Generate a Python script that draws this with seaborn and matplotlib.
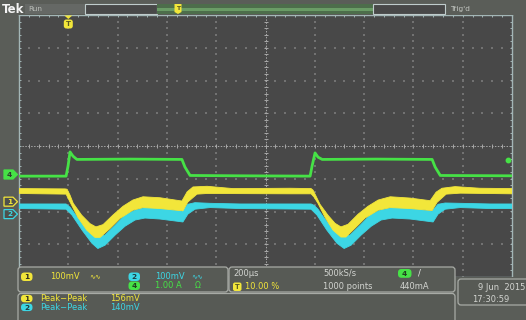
import numpy as np
import pandas as pd
import matplotlib
matplotlib.use("Agg")
import matplotlib.pyplot as plt
import matplotlib.transforms as mtransforms
from matplotlib.patches import FancyBboxPatch, Rectangle, Polygon
import seaborn as sns

# ---------------- acquisition settings ----------------
TIME_PER_DIV_US = 200
N_HDIV, N_VDIV = 10, 8
TRIGGER_POS_PCT = 10.0
SAMPLE_RATE = "500kS/s"
RECORD_LEN = "1000 points"
TRIG_LEVEL_A = 0.44
CH_SCALE_TEXT = {1: "100mV", 2: "100mV", 4: "1.00 A"}
CH_UNITS_PER_DIV = {1: 100.0, 2: 100.0, 4: 1.0}
CH_POS_DIV = {1: -1.70, 2: -2.08, 4: -0.87}
DATE_TEXT = "9 Jun  2015"
CLOCK_TEXT = "17:30:59"

# ---------------- channel 1 (mV), noise envelope ----------------
ch1_up_t = [-200, -13, -5, 7, 20, 54, 88, 112, 141, 181, 222, 262, 303, 372, 461, 482, 506, 563, 668, 900,
            985, 993, 1005, 1021, 1053, 1082, 1106, 1135, 1176, 1216, 1257, 1306, 1387, 1468, 1492, 1516,
            1569, 1670, 1800]
ch1_up_mv = [40, 39, 38, 20, -5, -41, -67, -77, -70, -41, -14, 5, 15, 12, 2, 30, 45, 47, 40, 41,
             40, 35, 17, -8, -41, -66, -77, -69, -38, -14, 5, 15, 11, 3, 29, 41,
             46, 41, 40]
ch1_lo_t = [-200, -9, 7, 39, 75, 108, 129, 169, 210, 262, 303, 372, 465, 485, 522, 563, 900,
            985, 997, 1013, 1041, 1074, 1106, 1126, 1163, 1204, 1257, 1306, 1387, 1476, 1496, 1533, 1590, 1800]
ch1_lo_mv = [25, 23, -1, -48, -87, -109, -109, -82, -51, -26, -18, -21, -28, -1, 23, 25, 24,
             24, 14, -5, -47, -87, -108, -108, -81, -50, -26, -18, -21, -27, -2, 23, 26, 24]

# ---------------- channel 2 (mV), noise envelope ----------------
ch2_up_t = [-200, -9, 7, 39, 76, 112, 149, 190, 230, 271, 311, 372, 461, 485, 514, 575, 697,
            985, 997, 1013, 1041, 1078, 1111, 1143, 1184, 1224, 1265, 1314, 1387, 1476, 1500, 1529, 1590, 1712, 1800]
ch2_up_mv = [31, 31, 21, -12, -49, -70, -64, -34, -3, 12, 20, 18, 9, 30, 35, 33, 31,
             31, 27, 15, -15, -49, -70, -64, -34, -3, 12, 20, 18, 9, 30, 34, 33, 31, 31]
ch2_lo_t = [-200, -9, 15, 56, 96, 120, 149, 190, 230, 271, 311, 372, 465, 485, 514, 575, 697,
            985, 1009, 1049, 1090, 1119, 1147, 1188, 1229, 1269, 1314, 1387, 1480, 1500, 1529, 1590, 1712, 1800]
ch2_lo_mv = [17, 15, -3, -49, -89, -105, -95, -64, -37, -18, -12, -15, -24, 0, 15, 20, 17,
             15, -3, -49, -89, -105, -95, -64, -37, -18, -12, -15, -24, 0, 15, 20, 17, 17]

# ---------------- channel 4 (A) ----------------
ch4_t = [-200, -9, -1, 7, 19, 35, 250, 461, 473, 494, 700, 981,
         989, 1001, 1013, 1030, 1250, 1476, 1488, 1509, 1800]
ch4_a = [-0.05, -0.05, 0.26, 0.69, 0.56, 0.46, 0.47, 0.46, 0.23, -0.03, -0.04, -0.05,
         0.26, 0.66, 0.53, 0.46, 0.47, 0.46, 0.23, -0.03, -0.04]

# ---------------- colours ----------------
FRAME = "#5a5d58"
GRAT = "#484848"
BORDER = "#a3b6b6"
DOT = "#727272"
CENTER = "#a8a8a8"
YEL = "#f2e63a"
CYA = "#3cd6e4"
GRN = "#46e246"
TXT = "#d2d4d0"
BOXEDGE = "#a8aba6"
BOXFILL = "#575a55"

W, H = 526, 320
sns.set_theme(style="dark", rc={"axes.facecolor": GRAT, "figure.facecolor": FRAME})
plt.rcParams["font.family"] = ["DejaVu Sans"]

fig = plt.figure(figsize=(W / 100, H / 100), dpi=100)
fig.patch.set_facecolor(FRAME)
PX = mtransforms.Affine2D().scale(1 / W, -1 / H).translate(0, 1) + fig.transFigure

ax = fig.add_axes([19 / W, 1 - 277 / H, 493 / W, 262 / H])
ax.set_facecolor(GRAT)
t_start = -TIME_PER_DIV_US * N_HDIV * TRIGGER_POS_PCT / 100
t_end = t_start + TIME_PER_DIV_US * N_HDIV
t_mid = (t_start + t_end) / 2
ax.set_xlim(t_start, t_end)
ax.set_ylim(-N_VDIV / 2, N_VDIV / 2)
ax.set_xticks([])
ax.set_yticks([])
ax.grid(False)
for sp in ax.spines.values():
    sp.set_color(BORDER)
    sp.set_linewidth(1.0)

# graticule: dotted division lines, centre cross with ticks
xs_minor = np.arange(t_start, t_end + 1, TIME_PER_DIV_US / 5)
ys_minor = np.arange(-N_VDIV / 2, N_VDIV / 2 + 0.01, 0.2)
for k in range(1, N_HDIV):
    xv = t_start + k * TIME_PER_DIV_US
    if xv == t_mid:
        continue
    ax.scatter(np.full(ys_minor.size, xv), ys_minor, s=0.9, c=DOT, marker="s", linewidths=0, zorder=1)
for k in range(-N_VDIV // 2 + 1, N_VDIV // 2):
    if k == 0:
        continue
    ax.scatter(xs_minor, np.full(xs_minor.size, k), s=0.9, c=DOT, marker="s", linewidths=0, zorder=1)
ax.axhline(0, color=CENTER, lw=0.7, ls=(0, (1.5, 1.5)), zorder=1)
ax.axvline(t_mid, color=CENTER, lw=0.7, ls=(0, (1.5, 1.5)), zorder=1)
ax.scatter(xs_minor, np.zeros(xs_minor.size), marker="|", s=10, c=CENTER, linewidths=0.7, zorder=1)
ax.scatter(np.full(ys_minor.size, t_mid), ys_minor, marker="_", s=10, c=CENTER, linewidths=0.7, zorder=1)
ax.scatter(xs_minor, np.full(xs_minor.size, N_VDIV / 2), marker="|", s=12, c=BORDER, linewidths=0.7, zorder=1)
ax.scatter(np.full(ys_minor.size, t_end), ys_minor, marker="_", s=12, c=BORDER, linewidths=0.7, zorder=1)
ax.scatter(np.full(ys_minor.size, t_start), ys_minor, marker="_", s=12, c=BORDER, linewidths=0.7, zorder=1)


def to_div(values, ch):
    return np.asarray(values, float) / CH_UNITS_PER_DIV[ch] + CH_POS_DIV[ch]


def draw_band(t_up, v_up, t_lo, v_lo, ch, color, z):
    xs = np.concatenate([np.asarray(t_up, float), np.asarray(t_lo, float)[::-1]])
    ys = np.concatenate([to_div(v_up, ch), to_div(v_lo, ch)[::-1]])
    ax.fill(xs, ys, facecolor=color, edgecolor=color, lw=0.6, zorder=z)


draw_band(ch2_up_t, ch2_up_mv, ch2_lo_t, ch2_lo_mv, 2, CYA, 3)
draw_band(ch1_up_t, ch1_up_mv, ch1_lo_t, ch1_lo_mv, 1, YEL, 4)

df4 = pd.DataFrame({"t": ch4_t, "div": to_div(ch4_a, 4)})
sns.lineplot(data=df4, x="t", y="div", color=GRN, lw=2.0, estimator=None, sort=False, ax=ax, zorder=5)
ax.set_xlabel("")
ax.set_ylabel("")

# trigger level indicator on the right edge
trig_div = TRIG_LEVEL_A / CH_UNITS_PER_DIV[4] + CH_POS_DIV[4]
ax.plot([t_end - 0.008 * (t_end - t_start)], [trig_div], "o", ms=3.2, color=GRN, zorder=6, clip_on=False)


def ypx(div):
    return H - ax.transData.transform((0, div))[1]


def xpx(t):
    return ax.transData.transform((t, 0))[0]


def box(x0, y0, x1, y1, fc, ec="none", lw=0.0, r=0.0, z=2):
    if r > 0:
        p = FancyBboxPatch((x0, y0), x1 - x0, y1 - y0, boxstyle=f"round,pad=0,rounding_size={r}",
                           fc=fc, ec=ec, lw=lw, transform=PX, zorder=z)
    else:
        p = Rectangle((x0, y0), x1 - x0, y1 - y0, fc=fc, ec=ec, lw=lw, transform=PX, zorder=z)
    fig.patches.append(p)
    return p


def label(x, y, s, color=TXT, size=6.0, ha="left", weight="normal", z=6):
    fig.text(x, y, s, color=color, fontsize=size, ha=ha, va="center", fontweight=weight,
             transform=PX, zorder=z)


def badge(x0, y0, x1, y1, s, color, txtcol="#303020"):
    box(x0, y0, x1, y1, color, r=3.5, z=4)
    label((x0 + x1) / 2, (y0 + y1) / 2 + 0.3, s, color=txtcol, size=5.3, ha="center", weight="bold")


# ---------------- top status bar ----------------
box(0, 0, W, 15, FRAME, z=2)
label(2, 9.5, "Tek", color="#f4f4f4", size=8.5, weight="bold")
box(25, 4, 85, 14, "#656865", z=3)
label(28, 9.2, "Run", color="#b9bdb8", size=5.3)
box(85, 4, 157, 14, GRAT, ec="#c0cccc", lw=0.8, z=3)
box(157, 4, 373, 14, "#4d6d4b", z=3)
box(157, 8, 373, 11, "#6a9c66", z=3)
box(373, 4, 445, 14, GRAT, ec="#c0cccc", lw=0.8, z=3)
label(450, 9.2, "Trig'd", color="#c4c8c3", size=5.3)
xt = 178
fig.patches.append(Polygon([(xt - 3.5, 4), (xt + 3.5, 4), (xt + 3.5, 12), (xt, 14), (xt - 3.5, 12)],
                           closed=True, fc=YEL, ec="none", transform=PX, zorder=4))
label(xt, 8.5, "T", color="#5a5a20", size=4.5, ha="center", weight="bold")

# trigger position marker at top of the graticule
xtp = xpx(0)
fig.patches.append(Polygon([(xtp - 4, 15.5), (xtp + 4, 15.5), (xtp, 19)], closed=True, fc=YEL,
                           ec="none", transform=PX, zorder=4))
box(xtp - 4.5, 19.5, xtp + 4.5, 28.5, YEL, r=2.5, z=4)
label(xtp, 24.3, "T", color="#5a5a20", size=5.0, ha="center", weight="bold")

# ---------------- channel ground markers ----------------
for ch, col, filled in [(4, GRN, True), (1, YEL, False), (2, CYA, False)]:
    yc = ypx(CH_POS_DIV[ch])
    pts = [(4, yc - 4.5), (13, yc - 4.5), (17.5, yc), (13, yc + 4.5), (4, yc + 4.5)]
    fig.patches.append(Polygon(pts, closed=True, fc=col if filled else "#4e504c", ec=col, lw=0.9,
                               transform=PX, zorder=4))
    label(9.5, yc + 0.3, str(ch), color="#2f3a2f" if filled else col, size=5.3, ha="center", weight="bold")

# ---------------- bottom readout panels ----------------
box(0, 277, W, H, FRAME, z=2)
box(18, 267, 228, 292, BOXFILL, ec=BOXEDGE, lw=0.9, r=3, z=3)
box(229, 267, 455, 292, BOXFILL, ec=BOXEDGE, lw=0.9, r=3, z=3)
box(18, 293.5, 455, 324, BOXFILL, ec=BOXEDGE, lw=0.9, r=3, z=3)
box(458, 279, 532, 305, BOXFILL, ec=BOXEDGE, lw=0.9, r=3, z=3)

badge(21, 272.5, 32.5, 281, "1", YEL)
label(50, 276.5, CH_SCALE_TEXT[1], color=YEL)
label(89, 276.5, "\u223f\u223f", color=YEL, size=5.0)
badge(128.5, 272.5, 140, 281, "2", CYA, "#1f3a40")
label(155, 276.5, CH_SCALE_TEXT[2], color=CYA)
label(191, 276.5, "\u223f\u223f", color=CYA, size=5.0)
badge(128.5, 281.5, 140, 290, "4", GRN, "#1f401f")
label(155, 285.8, CH_SCALE_TEXT[4], color=GRN)
label(195, 285.8, "\u03a9", color=GRN, size=5.5)

label(233, 273.3, f"{TIME_PER_DIV_US}\u00b5s", color=TXT)
box(233, 282.5, 241.5, 291, YEL, r=2, z=4)
label(237.2, 286.9, "T", color="#5a5a20", size=4.8, ha="center", weight="bold")
label(245, 286.7, f"{TRIGGER_POS_PCT:.2f} %", color=YEL)
label(323, 273.3, SAMPLE_RATE, color=TXT)
label(323, 286.7, RECORD_LEN, color=TXT)
badge(398, 269, 411.5, 277.8, "4", GRN, "#1f401f")
label(418, 273.3, "/", color="#e6e6e6", size=6.2)
label(400, 286.7, f"{TRIG_LEVEL_A * 1000:.0f}mA", color=TXT)

pp1 = np.ptp(np.concatenate([ch1_up_mv, ch1_lo_mv]))
pp2 = np.ptp(np.concatenate([ch2_up_mv, ch2_lo_mv]))
badge(21, 294.8, 32.5, 302.3, "1", YEL)
label(40, 298.6, "Peak\u2212Peak", color=YEL)
label(110, 298.6, f"{pp1:.0f}mV", color=YEL)
badge(21, 303.6, 32.5, 311.1, "2", CYA, "#1f3a40")
label(40, 307.4, "Peak\u2212Peak", color=CYA)
label(110, 307.4, f"{pp2:.0f}mV", color=CYA)

label(478, 287, DATE_TEXT, color=TXT)
label(472, 299, CLOCK_TEXT, color=TXT)

fig.savefig("out.png", dpi=100, facecolor=FRAME)
